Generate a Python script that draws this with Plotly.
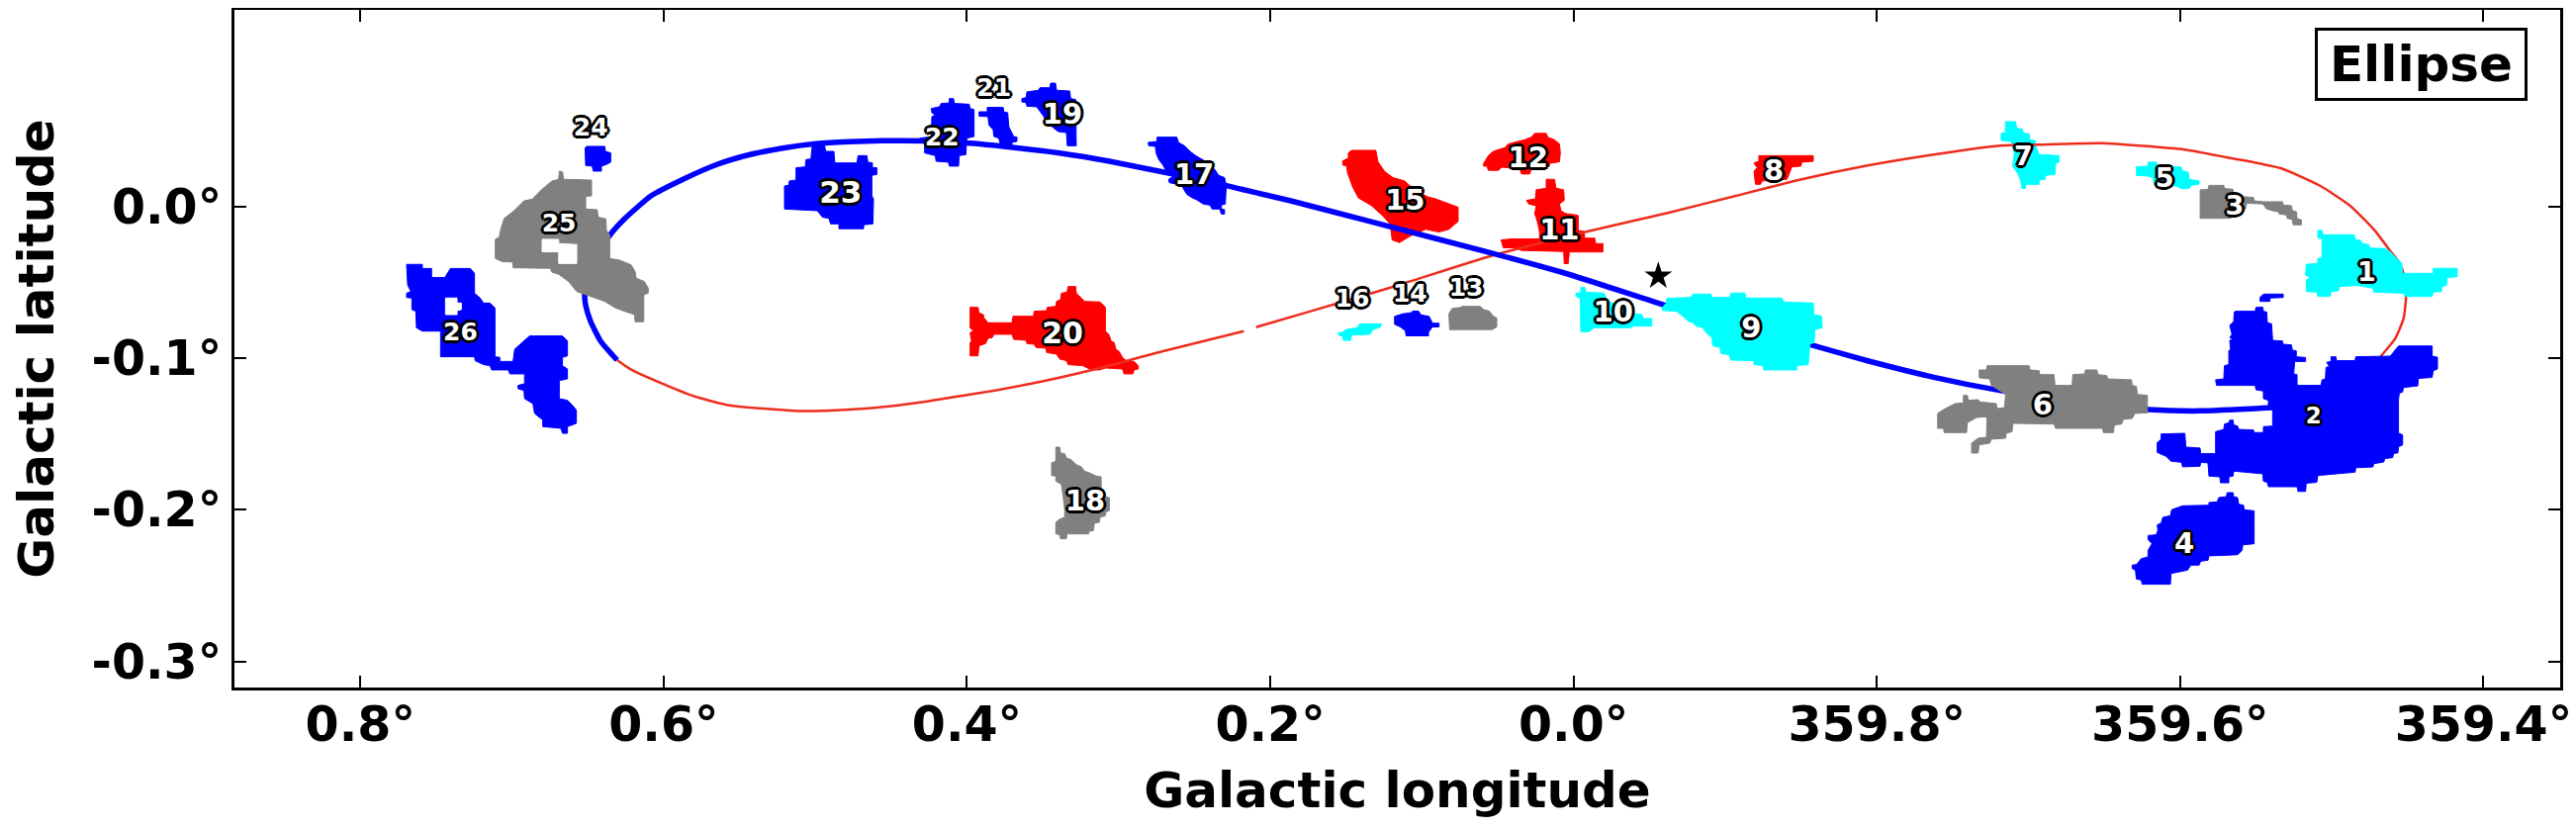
import plotly.graph_objects as go

# --- cloud outlines, (galactic longitude, galactic latitude) in degrees ---
# longitudes east of 0 are positive, 359.x is written as negative

CLOUD_1 = [(-0.4908, -0.0158), (-0.4936, -0.0158), (-0.4941, -0.0187), (-0.5147, -0.0187), (-0.5153, -0.0217),
           (-0.5190, -0.0224), (-0.5201, -0.0245), (-0.5245, -0.0252), (-0.5249, -0.0274), (-0.5353, -0.0278),
           (-0.5386, -0.0300), (-0.5430, -0.0343), (-0.5462, -0.0376), (-0.5467, -0.0441), (-0.5669, -0.0441),
           (-0.5669, -0.0408), (-0.5827, -0.0408), (-0.5827, -0.0463), (-0.5762, -0.0469), (-0.5756, -0.0521),
           (-0.5727, -0.0528), (-0.5723, -0.0561), (-0.5669, -0.0565), (-0.5662, -0.0593), (-0.5484, -0.0593),
           (-0.5473, -0.0572), (-0.5277, -0.0565), (-0.5271, -0.0539), (-0.5169, -0.0521), (-0.5049, -0.0528),
           (-0.5045, -0.0556), (-0.4995, -0.0561), (-0.4990, -0.0593), (-0.4908, -0.0593), (-0.4901, -0.0565),
           (-0.4832, -0.0561), (-0.4832, -0.0485), (-0.4858, -0.0469), (-0.4827, -0.0452), (-0.4832, -0.0382),
           (-0.4908, -0.0376), (-0.4908, -0.0343), (-0.4936, -0.0339), (-0.4936, -0.0213), (-0.4908, -0.0208)]

CLOUD_2 = [(-0.4364, -0.0691), (-0.4494, -0.0691), (-0.4501, -0.0665), (-0.4545, -0.0665), (-0.4549, -0.0691),
           (-0.4571, -0.0696), (-0.4575, -0.0767), (-0.4603, -0.0774), (-0.4610, -0.0883), (-0.4675, -0.0887),
           (-0.4679, -0.0909), (-0.4734, -0.0913), (-0.4740, -0.0948), (-0.4766, -0.0952), (-0.4766, -0.0991),
           (-0.4827, -0.0996), (-0.4827, -0.1022), (-0.4755, -0.1022), (-0.4749, -0.1104), (-0.4771, -0.1109),
           (-0.4771, -0.1180), (-0.4929, -0.1180), (-0.4936, -0.1143), (-0.4958, -0.1137), (-0.4962, -0.1061),
           (-0.4984, -0.1056), (-0.4966, -0.1028), (-0.4995, -0.1022), (-0.4995, -0.0991), (-0.5027, -0.0991),
           (-0.5032, -0.1017), (-0.5153, -0.1017), (-0.5158, -0.0991), (-0.5386, -0.0987), (-0.5440, -0.0920),
           (-0.5662, -0.0920), (-0.5662, -0.0987), (-0.5697, -0.0994), (-0.5697, -0.1072), (-0.5669, -0.1083),
           (-0.5662, -0.1127), (-0.5571, -0.1134), (-0.5567, -0.1183), (-0.5473, -0.1194), (-0.5467, -0.1223),
           (-0.5445, -0.1232), (-0.5440, -0.1277), (-0.5440, -0.1495), (-0.5467, -0.1506), (-0.5467, -0.1573),
           (-0.5440, -0.1584), (-0.5436, -0.1625), (-0.5408, -0.1629), (-0.5401, -0.1656), (-0.5349, -0.1663),
           (-0.5343, -0.1685), (-0.5277, -0.1696), (-0.5271, -0.1718), (-0.5158, -0.1723), (-0.5154, -0.1752),
           (-0.4908, -0.1774), (-0.4901, -0.1819), (-0.4832, -0.1825), (-0.4827, -0.1879), (-0.4777, -0.1879),
           (-0.4771, -0.1848), (-0.4582, -0.1848), (-0.4575, -0.1819), (-0.4549, -0.1812), (-0.4545, -0.1763),
           (-0.4353, -0.1745), (-0.4349, -0.1778), (-0.4321, -0.1783), (-0.4321, -0.1822), (-0.4266, -0.1822),
           (-0.4262, -0.1783), (-0.4190, -0.1778), (-0.4184, -0.1691), (-0.4136, -0.1687), (-0.4131, -0.1713),
           (-0.4016, -0.1717), (-0.4010, -0.1687), (-0.3940, -0.1680), (-0.3908, -0.1648), (-0.3849, -0.1622),
           (-0.3849, -0.1557), (-0.3875, -0.1535), (-0.3875, -0.1500), (-0.4031, -0.1496), (-0.4038, -0.1587),
           (-0.4131, -0.1593), (-0.4136, -0.1630), (-0.4234, -0.1630), (-0.4234, -0.1485), (-0.4288, -0.1470),
           (-0.4292, -0.1435), (-0.4321, -0.1426), (-0.4327, -0.1409), (-0.4349, -0.1409), (-0.4353, -0.1441),
           (-0.4379, -0.1448), (-0.4386, -0.1470), (-0.4484, -0.1474), (-0.4488, -0.1491), (-0.4549, -0.1491),
           (-0.4549, -0.1452), (-0.4610, -0.1448), (-0.4610, -0.1326), (-0.4582, -0.1322), (-0.4582, -0.1278),
           (-0.4549, -0.1267), (-0.4549, -0.1217), (-0.4501, -0.1209), (-0.4494, -0.1180), (-0.4240, -0.1180),
           (-0.4234, -0.1143), (-0.4288, -0.1137), (-0.4292, -0.1050), (-0.4321, -0.1043), (-0.4321, -0.0952),
           (-0.4332, -0.0941), (-0.4327, -0.0883), (-0.4353, -0.0876), (-0.4327, -0.0865), (-0.4342, -0.0843),
           (-0.4327, -0.0783), (-0.4353, -0.0761), (-0.4357, -0.0696)]
CLOUD_2_BIT = [(-0.4549, -0.0578), (-0.4680, -0.0578), (-0.4680, -0.0600), (-0.4592, -0.0604),
               (-0.4592, -0.0626), (-0.4527, -0.0626), (-0.4527, -0.0600)]

CLOUD_3 = [(-0.4190, 0.0139), (-0.4288, 0.0139), (-0.4293, 0.0118), (-0.4349, 0.0113), (-0.4353, 0.0070),
           (-0.4423, 0.0066), (-0.4484, 0.0059), (-0.4488, 0.0037), (-0.4549, 0.0031), (-0.4675, 0.0031),
           (-0.4680, 0.0009), (-0.4734, 0.0005), (-0.4740, -0.0028), (-0.4767, -0.0035), (-0.4771, -0.0082),
           (-0.4799, -0.0087), (-0.4799, -0.0121), (-0.4745, -0.0121), (-0.4740, -0.0087), (-0.4706, -0.0078),
           (-0.4701, -0.0056), (-0.4653, -0.0050), (-0.4647, -0.0035), (-0.4610, -0.0028), (-0.4571, -0.0017),
           (-0.4545, 0.0016), (-0.4440, 0.0022), (-0.4430, -0.0017), (-0.4353, -0.0050), (-0.4332, -0.0078),
           (-0.4132, -0.0078), (-0.4132, 0.0109), (-0.4184, 0.0113)]

CLOUD_4 = [(-0.4310, -0.1887), (-0.4349, -0.1887), (-0.4353, -0.1913), (-0.4379, -0.1920), (-0.4386, -0.1963),
           (-0.4418, -0.1970), (-0.4423, -0.2000), (-0.4488, -0.2007), (-0.4488, -0.2224), (-0.4414, -0.2231),
           (-0.4408, -0.2268), (-0.4379, -0.2296), (-0.4310, -0.2300), (-0.4190, -0.2304), (-0.4184, -0.2333),
           (-0.4136, -0.2339), (-0.4125, -0.2365), (-0.4071, -0.2365), (-0.4049, -0.2398), (-0.3940, -0.2420),
           (-0.3936, -0.2491), (-0.3749, -0.2491), (-0.3744, -0.2463), (-0.3712, -0.2457), (-0.3705, -0.2398),
           (-0.3684, -0.2387), (-0.3684, -0.2365), (-0.3712, -0.2361), (-0.3744, -0.2322), (-0.3788, -0.2311),
           (-0.3788, -0.2268), (-0.3814, -0.2224), (-0.3788, -0.2196), (-0.3788, -0.2170), (-0.3842, -0.2165),
           (-0.3853, -0.2137), (-0.3849, -0.2100), (-0.3875, -0.2087), (-0.3886, -0.2050), (-0.3936, -0.2039),
           (-0.3944, -0.2000), (-0.4016, -0.1974), (-0.4190, -0.1970), (-0.4190, -0.1952), (-0.4244, -0.1948),
           (-0.4255, -0.1920), (-0.4305, -0.1913)]

CLOUD_5 = [(-0.3788, 0.0292), (-0.3843, 0.0292), (-0.3853, 0.0261), (-0.4006, 0.0261), (-0.4016, 0.0233),
           (-0.4053, 0.0226), (-0.4060, 0.0179), (-0.4125, 0.0168), (-0.4125, 0.0146), (-0.4071, 0.0140),
           (-0.4060, 0.0118), (-0.4006, 0.0118), (-0.3973, 0.0135), (-0.3832, 0.0140), (-0.3821, 0.0190),
           (-0.3788, 0.0200), (-0.3712, 0.0205), (-0.3712, 0.0261), (-0.3788, 0.0266)]

CLOUD_6 = [(-0.2675, -0.1078), (-0.2723, -0.1078), (-0.2727, -0.1050), (-0.3005, -0.1050), (-0.3010, -0.1078),
           (-0.3071, -0.1083), (-0.3075, -0.1109), (-0.3168, -0.1109), (-0.3175, -0.1180), (-0.3288, -0.1180),
           (-0.3292, -0.1109), (-0.3371, -0.1104), (-0.3375, -0.1078), (-0.3451, -0.1078), (-0.3458, -0.1109),
           (-0.3516, -0.1115), (-0.3523, -0.1137), (-0.3679, -0.1143), (-0.3684, -0.1180), (-0.3712, -0.1187),
           (-0.3718, -0.1239), (-0.3784, -0.1246), (-0.3784, -0.1361), (-0.3701, -0.1365), (-0.3684, -0.1398),
           (-0.3625, -0.1404), (-0.3614, -0.1435), (-0.3566, -0.1441), (-0.3560, -0.1491), (-0.3494, -0.1491),
           (-0.3488, -0.1463), (-0.3179, -0.1463), (-0.3168, -0.1435), (-0.2897, -0.1430), (-0.2892, -0.1485),
           (-0.2853, -0.1496), (-0.2849, -0.1528), (-0.2755, -0.1535), (-0.2744, -0.1561), (-0.2675, -0.1572),
           (-0.2668, -0.1626), (-0.2625, -0.1626), (-0.2625, -0.1561), (-0.2668, -0.1528), (-0.2723, -0.1522),
           (-0.2727, -0.1398), (-0.2718, -0.1387), (-0.2658, -0.1391), (-0.2597, -0.1426), (-0.2592, -0.1491),
           (-0.2444, -0.1491), (-0.2440, -0.1463), (-0.2401, -0.1463), (-0.2401, -0.1365), (-0.2440, -0.1339),
           (-0.2516, -0.1300), (-0.2571, -0.1296), (-0.2571, -0.1246), (-0.2597, -0.1246), (-0.2603, -0.1278),
           (-0.2668, -0.1274), (-0.2679, -0.1289), (-0.2788, -0.1300), (-0.2792, -0.1333), (-0.2842, -0.1326),
           (-0.2849, -0.1239), (-0.2814, -0.1217), (-0.2755, -0.1180), (-0.2744, -0.1137), (-0.2675, -0.1130)]

CLOUD_7 = [(-0.2848, 0.0559), (-0.2914, 0.0559), (-0.2922, 0.0516), (-0.2961, 0.0509), (-0.2966, 0.0483),
           (-0.3005, 0.0479), (-0.3009, 0.0439), (-0.3044, 0.0435), (-0.3048, 0.0396), (-0.3070, 0.0342),
           (-0.3201, 0.0335), (-0.3201, 0.0292), (-0.3179, 0.0287), (-0.3174, 0.0211), (-0.3114, 0.0205),
           (-0.3109, 0.0179), (-0.3070, 0.0174), (-0.3070, 0.0146), (-0.2983, 0.0146), (-0.2979, 0.0118),
           (-0.2957, 0.0118), (-0.2950, 0.0168), (-0.2929, 0.0218), (-0.2896, 0.0266), (-0.2907, 0.0353),
           (-0.2885, 0.0429), (-0.2820, 0.0435), (-0.2820, 0.0483), (-0.2848, 0.0487)]

CLOUD_8 = [(-0.1222, 0.0335), (-0.1581, 0.0335), (-0.1581, 0.0298), (-0.1505, 0.0292), (-0.1500, 0.0266),
           (-0.1440, 0.0261), (-0.1429, 0.0233), (-0.1407, 0.0179), (-0.1244, 0.0168), (-0.1233, 0.0146),
           (-0.1200, 0.0146), (-0.1196, 0.0189), (-0.1190, 0.0233), (-0.1211, 0.0255), (-0.1190, 0.0287),
           (-0.1222, 0.0298)]

CLOUD_9 = [(-0.0613, -0.0608), (-0.0657, -0.0604), (-0.0777, -0.0600), (-0.0787, -0.0578), (-0.0907, -0.0578),
           (-0.0913, -0.0600), (-0.1031, -0.0600), (-0.1037, -0.0571), (-0.1131, -0.0571), (-0.1135, -0.0604),
           (-0.1374, -0.0604), (-0.1385, -0.0630), (-0.1581, -0.0637), (-0.1585, -0.0713), (-0.1635, -0.0724),
           (-0.1640, -0.0800), (-0.1592, -0.0811), (-0.1587, -0.0897), (-0.1559, -0.0908), (-0.1548, -0.1043),
           (-0.1472, -0.1049), (-0.1472, -0.1078), (-0.1255, -0.1078), (-0.1248, -0.1049), (-0.1190, -0.1043),
           (-0.1190, -0.1017), (-0.1037, -0.1013), (-0.1026, -0.0978), (-0.0972, -0.0969), (-0.0966, -0.0930),
           (-0.0918, -0.0919), (-0.0913, -0.0865), (-0.0874, -0.0832), (-0.0853, -0.0800), (-0.0809, -0.0789),
           (-0.0787, -0.0767), (-0.0755, -0.0756), (-0.0722, -0.0724), (-0.0679, -0.0691), (-0.0587, -0.0686),
           (-0.0587, -0.0665), (-0.0613, -0.0637)]

CLOUD_10 = [(-0.0048, -0.0534), (-0.0074, -0.0534), (-0.0081, -0.0565), (-0.0200, -0.0571), (-0.0222, -0.0615),
            (-0.0255, -0.0637), (-0.0353, -0.0643), (-0.0385, -0.0669), (-0.0407, -0.0708), (-0.0450, -0.0713),
            (-0.0461, -0.0739), (-0.0516, -0.0739), (-0.0516, -0.0789), (-0.0396, -0.0789), (-0.0374, -0.0800),
            (-0.0135, -0.0800), (-0.0103, -0.0826), (-0.0048, -0.0826), (-0.0044, -0.0604), (-0.0016, -0.0593),
            (-0.0016, -0.0571), (-0.0048, -0.0571)]

CLOUD_11 = [(0.0180, 0.0179), (0.0126, 0.0179), (0.0115, 0.0120), (0.0065, 0.0110), (0.0061, 0.0040),
            (0.0093, 0.0016), (0.0082, -0.0030), (0.0050, -0.0047), (-0.0005, -0.0054), (-0.0031, -0.0060),
            (-0.0031, -0.0158), (-0.0070, -0.0165), (-0.0074, -0.0209), (-0.0140, -0.0209), (-0.0146, -0.0245),
            (-0.0194, -0.0245), (-0.0194, -0.0300), (0.0028, -0.0300), (0.0035, -0.0377), (0.0061, -0.0377),
            (0.0065, -0.0297), (0.0343, -0.0290), (0.0387, -0.0273), (0.0463, -0.0273), (0.0478, -0.0221),
            (0.0409, -0.0214), (0.0224, -0.0214), (0.0224, -0.0168), (0.0239, -0.0099), (0.0256, -0.0047),
            (0.0246, 0.0005), (0.0295, 0.0016), (0.0311, 0.0040), (0.0252, 0.0050), (0.0246, 0.0110),
            (0.0180, 0.0120)]

CLOUD_12 = [(0.0593, 0.0284), (0.0561, 0.0336), (0.0528, 0.0364), (0.0452, 0.0388), (0.0430, 0.0412),
            (0.0322, 0.0440), (0.0278, 0.0457), (0.0256, 0.0482), (0.0180, 0.0482), (0.0170, 0.0457),
            (0.0126, 0.0440), (0.0093, 0.0412), (0.0087, 0.0353), (0.0093, 0.0294), (0.0159, 0.0284),
            (0.0159, 0.0266), (0.0278, 0.0249), (0.0289, 0.0214), (0.0343, 0.0214), (0.0354, 0.0249),
            (0.0474, 0.0259), (0.0496, 0.0238), (0.0561, 0.0238), (0.0572, 0.0266), (0.0593, 0.0266)]

CLOUD_13 = [(0.0800, -0.0673), (0.0746, -0.0666), (0.0735, -0.0659), (0.0615, -0.0659), (0.0593, -0.0680),
            (0.0556, -0.0690), (0.0528, -0.0725), (0.0506, -0.0735), (0.0506, -0.0794), (0.0535, -0.0812),
            (0.0817, -0.0812), (0.0822, -0.0708)]

CLOUD_14 = [(0.1180, -0.0725), (0.1126, -0.0708), (0.1072, -0.0701), (0.1061, -0.0690), (0.1022, -0.0690),
            (0.1006, -0.0715), (0.0952, -0.0725), (0.0930, -0.0770), (0.0887, -0.0770), (0.0887, -0.0794),
            (0.0930, -0.0794), (0.0956, -0.0829), (0.0956, -0.0853), (0.1104, -0.0853), (0.1109, -0.0819),
            (0.1143, -0.0794), (0.1180, -0.0777)]

CLOUD_15 = [(0.1463, 0.0370), (0.1304, 0.0370), (0.1289, 0.0294), (0.1246, 0.0231), (0.1191, 0.0190),
            (0.1115, 0.0169), (0.1061, 0.0120), (0.0963, 0.0064), (0.0909, 0.0050), (0.0811, 0.0016),
            (0.0761, -0.0005), (0.0761, -0.0099), (0.0822, -0.0151), (0.0887, -0.0169), (0.0974, -0.0151),
            (0.1072, -0.0193), (0.1148, -0.0238), (0.1196, -0.0221), (0.1209, -0.0116), (0.1256, -0.0064),
            (0.1332, 0.0005), (0.1419, 0.0057), (0.1456, 0.0127), (0.1491, 0.0224), (0.1496, 0.0266),
            (0.1522, 0.0273), (0.1522, 0.0301), (0.1485, 0.0318), (0.1485, 0.0353)]

CLOUD_16 = [(0.1529, -0.0832), (0.1496, -0.0811), (0.1427, -0.0800), (0.1409, -0.0774), (0.1268, -0.0774),
            (0.1274, -0.0796), (0.1322, -0.0811), (0.1344, -0.0843), (0.1463, -0.0848), (0.1470, -0.0883),
            (0.1518, -0.0883), (0.1522, -0.0854), (0.1550, -0.0848), (0.1550, -0.0832)]

CLOUD_17 = [(0.2746, 0.0457), (0.2616, 0.0457), (0.2605, 0.0422), (0.2566, 0.0400), (0.2529, 0.0363),
            (0.2492, 0.0335), (0.2409, 0.0287), (0.2366, 0.0244), (0.2340, 0.0205), (0.2301, 0.0190),
            (0.2290, 0.0135), (0.2296, 0.0016), (0.2322, 0.0009), (0.2322, -0.0017), (0.2301, -0.0021),
            (0.2301, -0.0050), (0.2322, -0.0050), (0.2333, -0.0017), (0.2383, -0.0017), (0.2398, 0.0009),
            (0.2442, 0.0016), (0.2485, 0.0044), (0.2518, 0.0059), (0.2551, 0.0081), (0.2583, 0.0135),
            (0.2616, 0.0146), (0.2666, 0.0157), (0.2670, 0.0179), (0.2637, 0.0200), (0.2692, 0.0244),
            (0.2709, 0.0276), (0.2735, 0.0309), (0.2753, 0.0353), (0.2757, 0.0396), (0.2801, 0.0400),
            (0.2805, 0.0422), (0.2746, 0.0429)]

CLOUD_18 = [(0.3414, -0.1587), (0.3388, -0.1587), (0.3383, -0.1626), (0.3355, -0.1630), (0.3344, -0.1659),
            (0.3312, -0.1670), (0.3279, -0.1702), (0.3246, -0.1717), (0.3224, -0.1746), (0.3192, -0.1756),
            (0.3148, -0.1778), (0.3115, -0.1783), (0.3115, -0.1909), (0.3061, -0.1920), (0.3061, -0.2006),
            (0.3083, -0.2013), (0.3087, -0.2039), (0.3122, -0.2050), (0.3127, -0.2083), (0.3159, -0.2087),
            (0.3166, -0.2137), (0.3196, -0.2143), (0.3196, -0.2159), (0.3340, -0.2159), (0.3344, -0.2191),
            (0.3383, -0.2191), (0.3388, -0.2165), (0.3414, -0.2159), (0.3414, -0.2083), (0.3388, -0.2061),
            (0.3355, -0.2050), (0.3355, -0.2006), (0.3366, -0.1909), (0.3377, -0.1833), (0.3414, -0.1811),
            (0.3414, -0.1778), (0.3442, -0.1774), (0.3442, -0.1691), (0.3414, -0.1680)]

CLOUD_19 = [(0.3448, 0.0813), (0.3416, 0.0813), (0.3409, 0.0766), (0.3322, 0.0761), (0.3316, 0.0711),
            (0.3283, 0.0705), (0.3279, 0.0400), (0.3338, 0.0400), (0.3344, 0.0487), (0.3398, 0.0494),
            (0.3453, 0.0537), (0.3507, 0.0613), (0.3540, 0.0657), (0.3605, 0.0661), (0.3609, 0.0683),
            (0.3638, 0.0690), (0.3638, 0.0711), (0.3609, 0.0718), (0.3605, 0.0755), (0.3529, 0.0766),
            (0.3518, 0.0783), (0.3453, 0.0783)]

CLOUD_20 = [(0.3979, -0.0665), (0.3927, -0.0665), (0.3920, -0.0702), (0.3892, -0.0713), (0.3887, -0.0735),
            (0.3866, -0.0761), (0.3861, -0.0767), (0.3703, -0.0767), (0.3696, -0.0724), (0.3561, -0.0724),
            (0.3557, -0.0691), (0.3474, -0.0687), (0.3470, -0.0665), (0.3414, -0.0659), (0.3409, -0.0626),
            (0.3383, -0.0615), (0.3377, -0.0572), (0.3340, -0.0565), (0.3333, -0.0528), (0.3283, -0.0528),
            (0.3279, -0.0572), (0.3246, -0.0604), (0.3224, -0.0626), (0.3122, -0.0630), (0.3087, -0.0665),
            (0.3087, -0.0822), (0.3061, -0.0848), (0.3050, -0.0887), (0.3029, -0.0898), (0.3018, -0.0941),
            (0.2996, -0.0957), (0.2974, -0.0996), (0.2942, -0.1022), (0.2898, -0.1022), (0.2870, -0.1050),
            (0.2870, -0.1072), (0.2898, -0.1078), (0.2905, -0.1104), (0.2964, -0.1104), (0.2974, -0.1072),
            (0.3083, -0.1065), (0.3127, -0.1078), (0.3148, -0.1078), (0.3192, -0.1072), (0.3235, -0.1050),
            (0.3333, -0.1043), (0.3344, -0.1017), (0.3388, -0.1006), (0.3409, -0.0974), (0.3474, -0.0963),
            (0.3479, -0.0935), (0.3544, -0.0930), (0.3557, -0.0909), (0.3605, -0.0904), (0.3609, -0.0883),
            (0.3692, -0.0876), (0.3703, -0.0843), (0.3822, -0.0843), (0.3833, -0.0865), (0.3861, -0.0869),
            (0.3877, -0.0904), (0.3920, -0.0919), (0.3927, -0.0985), (0.3979, -0.0985), (0.3979, -0.0898),
            (0.3970, -0.0887), (0.3979, -0.0832), (0.3957, -0.0822), (0.3979, -0.0800)]

CLOUD_21 = [(0.3866, 0.0653), (0.3761, 0.0653), (0.3757, 0.0624), (0.3731, 0.0618), (0.3724, 0.0526),
            (0.3703, 0.0487), (0.3692, 0.0461), (0.3670, 0.0457), (0.3670, 0.0429), (0.3703, 0.0422),
            (0.3703, 0.0407), (0.3779, 0.0407), (0.3790, 0.0450), (0.3822, 0.0461), (0.3827, 0.0505),
            (0.3855, 0.0537), (0.3861, 0.0592), (0.3920, 0.0596), (0.3920, 0.0624), (0.3866, 0.0624)]

CLOUD_22 = [(0.4116, 0.0711), (0.4088, 0.0711), (0.4083, 0.0679), (0.3985, 0.0674), (0.3979, 0.0646),
            (0.3953, 0.0639), (0.3953, 0.0461), (0.4001, 0.0450), (0.4007, 0.0342), (0.4051, 0.0335),
            (0.4055, 0.0266), (0.4116, 0.0266), (0.4122, 0.0292), (0.4203, 0.0298), (0.4209, 0.0335),
            (0.4279, 0.0353), (0.4279, 0.0429), (0.4311, 0.0450), (0.4224, 0.0461), (0.4235, 0.0483),
            (0.4231, 0.0592), (0.4209, 0.0603), (0.4231, 0.0618), (0.4235, 0.0646), (0.4181, 0.0657),
            (0.4170, 0.0679), (0.4116, 0.0683)]

CLOUD_23 = [(0.5018, 0.0418), (0.4942, 0.0418), (0.4931, 0.0363), (0.4877, 0.0363), (0.4871, 0.0287),
            (0.4725, 0.0287), (0.4718, 0.0335), (0.4660, 0.0335), (0.4653, 0.0292), (0.4623, 0.0287),
            (0.4623, 0.0255), (0.4594, 0.0255), (0.4594, 0.0211), (0.4627, 0.0205), (0.4627, 0.0070),
            (0.4616, 0.0048), (0.4620, -0.0115), (0.4681, -0.0121), (0.4681, -0.0147), (0.4844, -0.0147),
            (0.4844, -0.0115), (0.4899, -0.0115), (0.4910, -0.0078), (0.4953, -0.0071), (0.4986, -0.0028),
            (0.5203, -0.0017), (0.5203, 0.0135), (0.5175, 0.0140), (0.5171, 0.0168), (0.5127, 0.0174),
            (0.5127, 0.0255), (0.5066, 0.0261), (0.5062, 0.0309), (0.5029, 0.0313)]

CLOUD_24 = [(0.6508, 0.0396), (0.6388, 0.0396), (0.6384, 0.0364), (0.6349, 0.0353), (0.6349, 0.0292),
            (0.6377, 0.0277), (0.6410, 0.0266), (0.6410, 0.0233), (0.6464, 0.0233), (0.6471, 0.0266),
            (0.6514, 0.0270), (0.6518, 0.0385)]

CLOUD_25 = [(0.6688, 0.0233), (0.6666, 0.0227), (0.6660, 0.0179), (0.6475, 0.0174), (0.6475, 0.0070),
            (0.6514, 0.0066), (0.6514, -0.0017), (0.6438, -0.0021), (0.6431, -0.0071), (0.6381, -0.0082),
            (0.6377, -0.0158), (0.6355, -0.0191), (0.6355, -0.0343), (0.6290, -0.0354), (0.6214, -0.0386),
            (0.6188, -0.0430), (0.6181, -0.0473), (0.6127, -0.0495), (0.6101, -0.0539), (0.6101, -0.0571),
            (0.6131, -0.0582), (0.6131, -0.0760), (0.6188, -0.0760), (0.6192, -0.0713), (0.6258, -0.0691),
            (0.6318, -0.0669), (0.6388, -0.0626), (0.6475, -0.0593), (0.6573, -0.0561), (0.6627, -0.0495),
            (0.6692, -0.0447), (0.6736, -0.0434), (0.6747, -0.0408), (0.6992, -0.0404), (0.6997, -0.0365),
            (0.7062, -0.0365), (0.7110, -0.0343), (0.7110, -0.0217), (0.7084, -0.0202), (0.7073, -0.0147),
            (0.7051, -0.0078), (0.6986, -0.0028), (0.6921, 0.0037), (0.6866, 0.0048), (0.6801, 0.0114),
            (0.6736, 0.0168), (0.6692, 0.0179)]
HOLE_25 = [(0.6801, -0.0217), (0.6692, -0.0217), (0.6692, -0.0245), (0.6573, -0.0251), (0.6573, -0.0376),
           (0.6692, -0.0376), (0.6692, -0.0299), (0.6801, -0.0299)]

CLOUD_26 = [(0.7695, -0.0382), (0.7591, -0.0382), (0.7591, -0.0409), (0.7530, -0.0409), (0.7530, -0.0469),
            (0.7443, -0.0469), (0.7406, -0.0409), (0.7275, -0.0409), (0.7247, -0.0441), (0.7247, -0.0572),
            (0.7210, -0.0604), (0.7188, -0.0637), (0.7145, -0.0637), (0.7112, -0.0669), (0.7112, -0.0991),
            (0.7080, -0.0995), (0.7080, -0.1022), (0.6993, -0.1022), (0.6982, -0.0941), (0.6917, -0.0887),
            (0.6884, -0.0854), (0.6667, -0.0854), (0.6634, -0.0887), (0.6634, -0.0985), (0.6667, -0.0995),
            (0.6667, -0.1050), (0.6634, -0.1072), (0.6634, -0.1137), (0.6688, -0.1148), (0.6688, -0.1267),
            (0.6634, -0.1278), (0.6601, -0.1311), (0.6575, -0.1343), (0.6575, -0.1430), (0.6634, -0.1452),
            (0.6634, -0.1496), (0.6667, -0.1496), (0.6677, -0.1463), (0.6797, -0.1452), (0.6797, -0.1408),
            (0.6851, -0.1365), (0.6862, -0.1300), (0.6917, -0.1267), (0.6921, -0.1213), (0.6960, -0.1202),
            (0.6960, -0.1180), (0.6917, -0.1169), (0.6917, -0.1104), (0.7014, -0.1104), (0.7025, -0.1078),
            (0.7134, -0.1078), (0.7145, -0.1050), (0.7188, -0.1043), (0.7243, -0.1017), (0.7247, -0.0991),
            (0.7471, -0.0991), (0.7471, -0.0822), (0.7591, -0.0822), (0.7630, -0.0800), (0.7634, -0.0691),
            (0.7660, -0.0680), (0.7660, -0.0604), (0.7695, -0.0600), (0.7695, -0.0572), (0.7667, -0.0561),
            (0.7688, -0.0517)]
HOLE_26 = [(0.7438, -0.0604), (0.7362, -0.0604), (0.7362, -0.0637), (0.7334, -0.0637), (0.7334, -0.0680),
           (0.7362, -0.0687), (0.7362, -0.0713), (0.7438, -0.0713)]

BLUE, RED, CYAN, GREY = "#0000ff", "#ff0000", "#00ffff", "#808080"

CLOUD_SHAPES = [[CLOUD_1], [CLOUD_2, CLOUD_2_BIT], [CLOUD_3], [CLOUD_4], [CLOUD_5], [CLOUD_6], [CLOUD_7],
                [CLOUD_8], [CLOUD_9], [CLOUD_10], [CLOUD_11], [CLOUD_12], [CLOUD_13], [CLOUD_14], [CLOUD_15],
                [CLOUD_16], [CLOUD_17], [CLOUD_18], [CLOUD_19], [CLOUD_20], [CLOUD_21], [CLOUD_22], [CLOUD_23],
                [CLOUD_24], [CLOUD_25], [CLOUD_26]]
CLOUD_COLOR = [CYAN, BLUE, GREY, BLUE, CYAN, GREY, CYAN, RED, CYAN, CYAN, RED, RED, GREY, BLUE, RED,
               CYAN, BLUE, GREY, BLUE, RED, BLUE, BLUE, BLUE, BLUE, GREY, BLUE]
# clouds that sit on top of the orbit line in the figure
FRONT_CLOUDS = [1, 2, 6, 9, 25]

# label positions (centre of each number)
LABEL_LON = [-0.523, -0.488, -0.436, -0.4027, -0.3897, -0.3093, -0.2966, -0.132, -0.1172, -0.0262,
             0.0093, 0.030, 0.0708, 0.1078, 0.1111, 0.1459, 0.2502, 0.322, 0.337, 0.337,
             0.3822, 0.4164, 0.4833, 0.648, 0.669, 0.734]
LABEL_LAT = [-0.0448, -0.1393, -0.0013, -0.2235, 0.0174, -0.1326, 0.0316, 0.0222, -0.0817, -0.0713,
             -0.0168, 0.0308, -0.0551, -0.0586, 0.0023, -0.0620, 0.0194, -0.1957, 0.0592, -0.0855,
             0.0770, 0.0440, 0.0074, 0.0509, -0.0126, -0.0843]
LABEL_SIZE = [27, 23, 27, 29, 27, 29, 27, 29, 29, 29, 29, 29, 25, 25, 29, 25, 29, 29, 29, 30,
              25, 25, 31, 25, 25, 25]

# Sgr A* position
STAR_LON = [-0.0559]
STAR_LAT = [-0.0459]

# projected elliptical orbit: near side (thick blue) and far side (thin red)
NEAR_LON = [0.6307, 0.6416, 0.6482, 0.6515, 0.6521, 0.6515, 0.6482, 0.6430, 0.6356, 0.6258, 0.6083, 0.5868,
            0.5648, 0.5431, 0.5214, 0.4996, 0.4779, 0.4562, 0.4279, 0.4040, 0.3714, 0.3388, 0.3061, 0.2735,
            0.2409, 0.2191, 0.1865, 0.1322, 0.0539, 0.0017, -0.0592, -0.1092, -0.1549, -0.1940, -0.2375,
            -0.2809, -0.3245, -0.3788, -0.4136, -0.4615]
NEAR_LAT = [-0.1013, -0.0887, -0.0757, -0.0648, -0.0583, -0.0517, -0.0419, -0.0309, -0.0191, -0.0082, 0.0070,
            0.0181, 0.0277, 0.0342, 0.0385, 0.0414, 0.0427, 0.0433, 0.0432, 0.0422, 0.0391, 0.0352, 0.0298,
            0.0233, 0.0167, 0.0114, 0.0037, -0.0104, -0.0308, -0.0452, -0.0648, -0.0791, -0.0908, -0.1018,
            -0.1126, -0.1213, -0.1280, -0.1339, -0.1348, -0.1326]
FAR_LON = [-0.4615, -0.4875, -0.5071, -0.5234, -0.5332, -0.5419, -0.5474, -0.5489, -0.5476, -0.5443, -0.5382,
           -0.5284, -0.5121, -0.4925, -0.4664, -0.4338, -0.4028, -0.3483, -0.3049, -0.2810, -0.2375, -0.1940,
           -0.1505, -0.1070, -0.0635, -0.0070, 0.0539, 0.1191, 0.1734, 0.2093, None, 0.2174, 0.2713, 0.3148,
           0.3583, 0.4018, 0.4453, 0.4779, 0.5105, 0.5568, 0.5785, 0.6003, 0.6220, 0.6307]
FAR_LAT = [-0.1326, -0.1287, -0.1222, -0.1104, -0.0978, -0.0871, -0.0737, -0.0602, -0.0452, -0.0367, -0.0289,
           -0.0159, 0.0005, 0.0135, 0.0252, 0.0318, 0.0375, 0.0417, 0.0407, 0.0401, 0.0342, 0.0270,
           0.0179, 0.0070, -0.0039, -0.0170, -0.0325, -0.0530, -0.0691, -0.0796, None, -0.0822, -0.0956, -0.1072,
           -0.1170, -0.1246, -0.1311, -0.1339, -0.1349, -0.1311, -0.1256, -0.1170, -0.1072, -0.1013]

X_TICKS = [0.8, 0.6, 0.4, 0.2, 0.0, -0.2, -0.4, -0.6]
X_TICK_TEXT = ["0.8°", "0.6°", "0.4°", "0.2°", "0.0°", "359.8°", "359.6°", "359.4°"]
Y_TICKS = [0.0, -0.1, -0.2, -0.3]
Y_TICK_TEXT = ["0.0°", "-0.1°", "-0.2°", "-0.3°"]

FONT = "DejaVu Sans"


def polygon_xy(parts):
    xs, ys = [], []
    for part in parts:
        for lon, lat in part + [part[0]]:
            xs.append(lon)
            ys.append(lat)
        xs.append(None)
        ys.append(None)
    return xs, ys


def cloud_trace(parts, color):
    xs, ys = polygon_xy(parts)
    return go.Scatter(x=xs, y=ys, mode="lines", fill="toself", fillcolor=color,
                      line=dict(color=color, width=1), hoverinfo="skip", showlegend=False)


fig = go.Figure()

# clouds behind the orbit
for i, (parts, color) in enumerate(zip(CLOUD_SHAPES, CLOUD_COLOR), start=1):
    if i not in FRONT_CLOUDS:
        fig.add_trace(cloud_trace(parts, color))
fig.add_trace(cloud_trace([HOLE_26], "white"))

# orbit
fig.add_trace(go.Scatter(x=FAR_LON, y=FAR_LAT, mode="lines",
                         line=dict(color="#ee2d1e", width=2.5, shape="spline", smoothing=0.5),
                         connectgaps=False, hoverinfo="skip", showlegend=False))
fig.add_trace(go.Scatter(x=NEAR_LON, y=NEAR_LAT, mode="lines",
                         line=dict(color=BLUE, width=5.5, shape="spline", smoothing=0.5),
                         hoverinfo="skip", showlegend=False))

# clouds in front of the orbit
for i, (parts, color) in enumerate(zip(CLOUD_SHAPES, CLOUD_COLOR), start=1):
    if i in FRONT_CLOUDS:
        fig.add_trace(cloud_trace(parts, color))
fig.add_trace(cloud_trace([HOLE_25], "white"))

fig.add_trace(go.Scatter(x=STAR_LON, y=STAR_LAT, mode="markers",
                         marker=dict(symbol="star", size=21, color="black", line=dict(width=0)),
                         hoverinfo="skip", showlegend=False))

outline = ", ".join(f"{dx}px {dy}px 0 #000" for dx, dy in
                    [(-2, -2), (2, -2), (-2, 2), (2, 2), (0, -3), (0, 3), (-3, 0), (3, 0)])
fig.add_trace(go.Scatter(x=LABEL_LON, y=LABEL_LAT, mode="text",
                         text=[str(n) for n in range(1, len(LABEL_LON) + 1)],
                         textposition="middle center",
                         textfont=dict(family=FONT, size=LABEL_SIZE, color="white", weight="bold", shadow=outline),
                         hoverinfo="skip", showlegend=False))

axis_common = dict(showgrid=False, zeroline=False, showline=True, linecolor="black", linewidth=3,
                   mirror="ticks", ticks="inside", ticklen=12, tickwidth=2, tickcolor="black",
                   tickfont=dict(family=FONT, size=49, color="black", weight="bold"))

fig.update_layout(
    width=2604, height=836,
    margin=dict(l=229, r=24, t=2, b=149, autoexpand=False),
    paper_bgcolor="white", plot_bgcolor="white",
    xaxis=dict(range=[0.8830, -0.6506], tickvals=X_TICKS, ticktext=X_TICK_TEXT, ticklabelstandoff=-8,
               title=dict(text="Galactic longitude", font=dict(family=FONT, size=50, color="black", weight="bold"),
                          standoff=22),
               **axis_common),
    yaxis=dict(range=[-0.3172, 0.1296], tickvals=Y_TICKS, ticktext=Y_TICK_TEXT,
               title=dict(text="Galactic latitude", font=dict(family=FONT, size=50, color="black", weight="bold"),
                          standoff=42),
               **axis_common),
    annotations=[dict(text="Ellipse", xref="paper", yref="paper", x=0.9403, y=0.9197,
                      xanchor="center", yanchor="middle", showarrow=False,
                      font=dict(family=FONT, size=50, color="black", weight="bold"),
                      bordercolor="black", borderwidth=3, borderpad=3, bgcolor="white",
                      width=203, height=62)],
)

fig.write_html("out.html")
